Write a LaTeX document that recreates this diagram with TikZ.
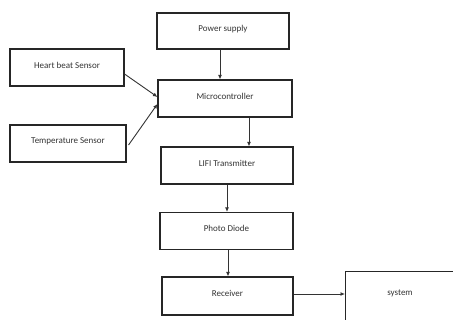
\documentclass[tikz,border=0pt]{standalone}
\usepackage{fontspec}
\setmainfont{Carlito}
\usetikzlibrary{arrows.meta}
\begin{document}
\begin{tikzpicture}[x=1pt,y=-1pt,
  lbl/.style={font=\fontsize{9}{11}\selectfont,text=black!80},
  box/.style={lbl,draw=black!85,line width=1.1pt,rectangle,inner sep=0pt,text depth=5pt},
  arr/.style={draw=black!80,line width=0.9pt,-{Latex[length=4.5pt,width=4pt]}}]
\useasboundingbox (0,0) rectangle (453,320);
\node[box,minimum width=132pt,minimum height=36pt] (ps) at (223,31) {Power supply};
\node[box,minimum width=114pt,minimum height=37pt] (hb) at (67,67.5) {Heart beat Sensor};
\node[box,minimum width=134pt,minimum height=37pt] (mc) at (225,98.5) {Microcontroller};
\node[box,minimum width=116pt,minimum height=37pt] (ts) at (68,143.5) {Temperature Sensor};
\node[box,minimum width=132pt,minimum height=37pt] (lt) at (227,165.5) {LIFI Transmitter};
\node[box,minimum width=133pt,minimum height=37pt] (pd) at (226.5,231) {Photo Diode};
\node[box,minimum width=131pt,minimum height=38pt] (rx) at (227.5,296) {Receiver};
\node[box,minimum width=120pt,minimum height=60pt,anchor=north west] (sy) at (345,271) {};
\node[lbl] (syt) at (400,293) {system};
\draw[arr] ([xshift=-3pt]ps.south) -- ([xshift=-3pt]ps.south |- mc.north);
\draw[arr] ([yshift=-6.5pt]hb.east) -- ([yshift=1.5pt]mc.west);
\draw[arr] ([yshift=-1.5pt,xshift=2pt]ts.east) -- ([yshift=-5.5pt]mc.west);
\draw[arr] ([xshift=24pt]mc.south) -- ([xshift=24pt]mc.south |- lt.north);
\draw[arr] (lt.south) -- (lt.south |- pd.north);
\draw[arr] ([xshift=1.5pt]pd.south) -- ([xshift=1.5pt]pd.south |- rx.north);
\draw[arr] ([yshift=2pt]rx.east) -- ([yshift=2pt]rx.east -| sy.west);
\end{tikzpicture}
\end{document}
